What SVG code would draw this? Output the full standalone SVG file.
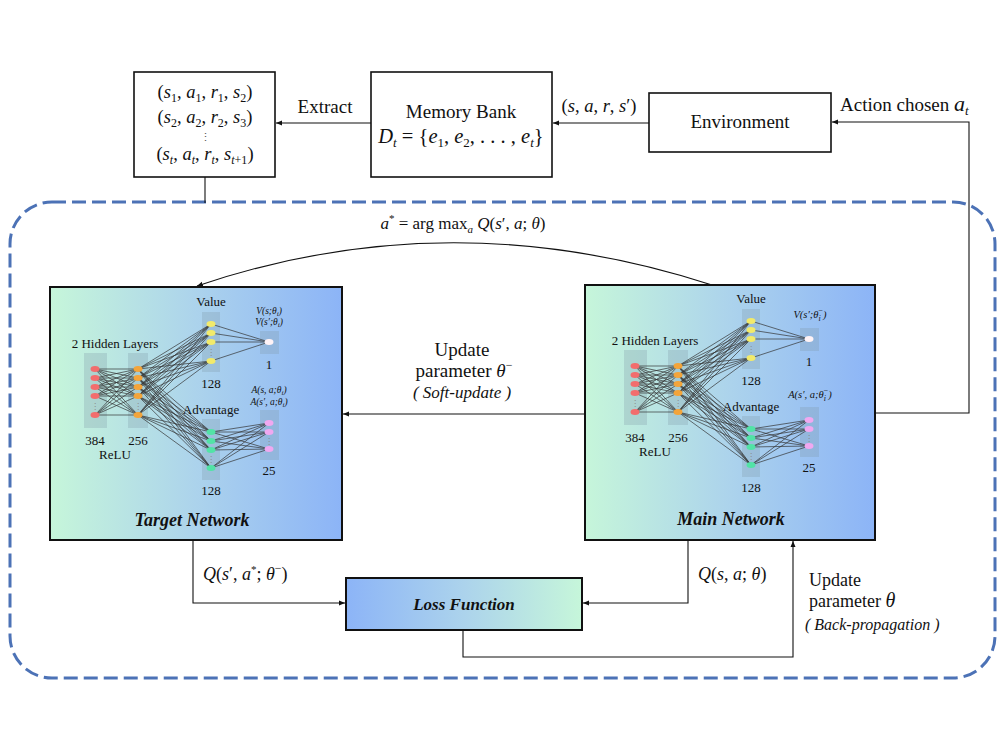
<svg xmlns="http://www.w3.org/2000/svg" xmlns:xlink="http://www.w3.org/1999/xlink" width="1000" height="750" viewBox="0 0 1000 750">
<style>
.t{font-family:"Liberation Serif","Times New Roman",serif;fill:#111}
.i{font-style:italic}
.box{fill:#fff;stroke:#111;stroke-width:1.6}
.conn{fill:none;stroke:#111;stroke-width:1.1}
.w{fill:none;stroke:#333;stroke-width:0.7}
.shade{fill:#7d98a6;fill-opacity:0.28}
.dots{font-family:"DejaVu Sans",sans-serif;font-size:8px;fill:#888}
</style>
<defs>
<marker id="ah" markerUnits="userSpaceOnUse" markerWidth="7" markerHeight="6" refX="6" refY="3" orient="auto">
<path d="M0 0.5L6 3L0 5.5z" fill="#111"/>
</marker>
<linearGradient id="gNet" x1="0" y1="0" x2="1" y2="0">
<stop offset="0" stop-color="#c6f6da"/>
<stop offset="0.5" stop-color="#acd3ec"/>
<stop offset="1" stop-color="#8cb4f7"/>
</linearGradient>
<linearGradient id="gLoss" x1="0" y1="0" x2="1" y2="0">
<stop offset="0" stop-color="#8cb4f7"/>
<stop offset="0.5" stop-color="#acd3ec"/>
<stop offset="1" stop-color="#c6f6da"/>
</linearGradient>
<g id="dqn">
<rect class="shade" x="84" y="353" width="23" height="75"/>
<rect class="shade" x="128" y="353" width="20" height="75"/>
<rect class="shade" x="202" y="312" width="18" height="60"/>
<rect class="shade" x="260" y="331" width="19" height="23"/>
<rect class="shade" x="202" y="419" width="18" height="61"/>
<rect class="shade" x="260" y="410" width="19" height="50"/>
<path class="w" d="M95 369L138 369M95 369L138 378M95 369L138 387M95 369L138 396M95 369L138 415M95 378L138 369M95 378L138 378M95 378L138 387M95 378L138 396M95 378L138 415M95 387L138 369M95 387L138 378M95 387L138 387M95 387L138 396M95 387L138 415M95 396L138 369M95 396L138 378M95 396L138 387M95 396L138 396M95 396L138 415M95 415L138 369M95 415L138 378M95 415L138 387M95 415L138 396M95 415L138 415"/>
<path class="w" d="M138 369L211 324M138 369L211 333M138 369L211 342M138 369L211 361M138 378L211 324M138 378L211 333M138 378L211 342M138 378L211 361M138 387L211 324M138 387L211 333M138 387L211 342M138 387L211 361M138 396L211 324M138 396L211 333M138 396L211 342M138 396L211 361M138 415L211 324M138 415L211 333M138 415L211 342M138 415L211 361"/>
<path class="w" d="M138 369L211 432M138 369L211 441M138 369L211 450M138 369L211 468M138 378L211 432M138 378L211 441M138 378L211 450M138 378L211 468M138 387L211 432M138 387L211 441M138 387L211 450M138 387L211 468M138 396L211 432M138 396L211 441M138 396L211 450M138 396L211 468M138 415L211 432M138 415L211 441M138 415L211 450M138 415L211 468"/>
<path class="w" d="M211 324L269 342M211 333L269 342M211 342L269 342M211 361L269 342"/>
<path class="w" d="M211 432L269 423M211 432L269 432M211 432L269 449M211 441L269 423M211 441L269 432M211 441L269 449M211 450L269 423M211 450L269 432M211 450L269 449M211 468L269 423M211 468L269 432M211 468L269 449"/>
<g fill="#f26d6d"><ellipse cx="95" cy="369" rx="4.5" ry="3"/><ellipse cx="95" cy="378" rx="4.5" ry="3"/><ellipse cx="95" cy="387" rx="4.5" ry="3"/><ellipse cx="95" cy="396" rx="4.5" ry="3"/><ellipse cx="95" cy="415" rx="4.5" ry="3"/></g>
<g fill="#f3a43a"><ellipse cx="138" cy="369" rx="4.5" ry="3"/><ellipse cx="138" cy="378" rx="4.5" ry="3"/><ellipse cx="138" cy="387" rx="4.5" ry="3"/><ellipse cx="138" cy="396" rx="4.5" ry="3"/><ellipse cx="138" cy="415" rx="4.5" ry="3"/></g>
<g fill="#f2ea6a"><ellipse cx="211" cy="324" rx="4.5" ry="3"/><ellipse cx="211" cy="333" rx="4.5" ry="3"/><ellipse cx="211" cy="342" rx="4.5" ry="3"/><ellipse cx="211" cy="361" rx="4.5" ry="3"/></g>
<ellipse cx="269" cy="342" rx="4.5" ry="3" fill="#fff3f6"/>
<g fill="#52e3a6"><ellipse cx="211" cy="432" rx="4.5" ry="3"/><ellipse cx="211" cy="441" rx="4.5" ry="3"/><ellipse cx="211" cy="450" rx="4.5" ry="3"/><ellipse cx="211" cy="468" rx="4.5" ry="3"/></g>
<g fill="#f0a8f0"><ellipse cx="269" cy="423" rx="4.5" ry="3"/><ellipse cx="269" cy="432" rx="4.5" ry="3"/><ellipse cx="269" cy="449" rx="4.5" ry="3"/></g>
<g class="dots" text-anchor="middle"><text x="95" y="409">⋮</text><text x="138" y="409">⋮</text><text x="211" y="355">⋮</text><text x="211" y="462">⋮</text><text x="269" y="444">⋮</text></g>
<g class="t" font-size="13" text-anchor="middle">
<text x="115" y="348">2 Hidden Layers</text>
<text x="95" y="445">384</text>
<text x="138" y="445">256</text>
<text x="115" y="459">ReLU</text>
<text x="211" y="306">Value</text>
<text x="211" y="388">128</text>
<text x="269" y="369">1</text>
<text x="211" y="414">Advantage</text>
<text x="211" y="495">128</text>
<text x="269" y="475">25</text>
</g>
</g>
</defs>
<rect width="1000" height="750" fill="#fff"/>
<rect id="dashed-frame" x="10" y="202" width="985" height="476" rx="42" fill="none" stroke="#4c72b6" stroke-width="3" stroke-dasharray="14 6"/>
<g id="connectors">
<path class="conn" d="M649 123L553 123" marker-end="url(#ah)"/>
<path class="conn" d="M371 123L276 123" marker-end="url(#ah)"/>
<path class="conn" d="M205 177L205 203"/>
<path class="conn" d="M876 413L969 413L969 122L832 122" marker-end="url(#ah)"/>
<path class="conn" d="M585 414L343 414" marker-end="url(#ah)"/>
<path class="conn" d="M712 285Q450 200 197 286" marker-end="url(#ah)"/>
<path class="conn" d="M193 541L193 603L345 603" marker-end="url(#ah)"/>
<path class="conn" d="M688 541L688 603L583 603" marker-end="url(#ah)"/>
<path class="conn" d="M463 630L463 657L793 657L793 541" marker-end="url(#ah)"/>
</g>
<g id="tuples">
<rect class="box" x="134" y="72" width="141" height="105"/>
<g class="t" font-size="18.5" text-anchor="middle">
<text x="205" y="98">(<tspan class="i">s</tspan><tspan font-size="12" dy="4">1</tspan><tspan dy="-4">, </tspan><tspan class="i">a</tspan><tspan font-size="12" dy="4">1</tspan><tspan dy="-4">, </tspan><tspan class="i">r</tspan><tspan font-size="12" dy="4">1</tspan><tspan dy="-4">, </tspan><tspan class="i">s</tspan><tspan font-size="12" dy="4">2</tspan><tspan dy="-4">)</tspan></text>
<text x="205" y="123">(<tspan class="i">s</tspan><tspan font-size="12" dy="4">2</tspan><tspan dy="-4">, </tspan><tspan class="i">a</tspan><tspan font-size="12" dy="4">2</tspan><tspan dy="-4">, </tspan><tspan class="i">r</tspan><tspan font-size="12" dy="4">2</tspan><tspan dy="-4">, </tspan><tspan class="i">s</tspan><tspan font-size="12" dy="4">3</tspan><tspan dy="-4">)</tspan></text>
<text x="205" y="141" font-size="11" fill="#555">⋮</text>
<text x="205" y="160">(<tspan class="i">s</tspan><tspan class="i" font-size="12" dy="4">t</tspan><tspan dy="-4">, </tspan><tspan class="i">a</tspan><tspan class="i" font-size="12" dy="4">t</tspan><tspan dy="-4">, </tspan><tspan class="i">r</tspan><tspan class="i" font-size="12" dy="4">t</tspan><tspan dy="-4">, </tspan><tspan class="i">s</tspan><tspan font-size="12" dy="4"><tspan class="i">t</tspan>+1</tspan><tspan dy="-4">)</tspan></text>
</g>
</g>
<g id="memory-bank">
<rect class="box" x="371" y="72" width="181" height="105"/>
<text class="t" x="461" y="118" font-size="19" text-anchor="middle">Memory Bank</text>
<text class="t" x="461" y="143" font-size="20.5" text-anchor="middle"><tspan class="i">D</tspan><tspan class="i" font-size="13" dy="4">t</tspan><tspan dy="-4"> = {</tspan><tspan class="i">e</tspan><tspan font-size="13" dy="4">1</tspan><tspan dy="-4">, </tspan><tspan class="i">e</tspan><tspan font-size="13" dy="4">2</tspan><tspan dy="-4">, . . . , </tspan><tspan class="i">e</tspan><tspan class="i" font-size="13" dy="4">t</tspan><tspan dy="-4">}</tspan></text>
</g>
<g id="environment">
<rect class="box" x="649" y="93" width="182" height="59"/>
<text class="t" x="740" y="128" font-size="19" text-anchor="middle">Environment</text>
</g>
<g id="labels-top" class="t">
<text x="325" y="113" font-size="19" text-anchor="middle">Extract</text>
<text x="599" y="112" font-size="18.5" text-anchor="middle">(<tspan class="i">s</tspan>, <tspan class="i">a</tspan>, <tspan class="i">r</tspan>, <tspan class="i">s</tspan>′)</text>
<text x="840" y="111" font-size="19">Action chosen <tspan class="i" font-size="22">a</tspan><tspan class="i" font-size="13" dy="4">t</tspan></text>
<text x="463" y="229" font-size="17" text-anchor="middle"><tspan class="i">a</tspan><tspan font-size="11" dy="-7">*</tspan><tspan dy="7"> = arg max</tspan><tspan class="i" font-size="11" dy="4">a</tspan><tspan dy="-4"> </tspan><tspan class="i">Q</tspan>(<tspan class="i">s</tspan>′, <tspan class="i">a</tspan>; <tspan class="i">θ</tspan>)</text>
<text x="462" y="356" font-size="19" text-anchor="middle">Update</text>
<text x="464" y="377" font-size="19" text-anchor="middle">parameter <tspan class="i">θ</tspan><tspan font-size="12" dy="-8">−</tspan></text>
<text x="462" y="398" font-size="17" text-anchor="middle" class="i">( Soft-update )</text>
<text x="203" y="580" font-size="18"><tspan class="i">Q</tspan>(<tspan class="i">s</tspan>′, <tspan class="i">a</tspan><tspan font-size="11" dy="-7">*</tspan><tspan dy="7">; </tspan><tspan class="i">θ</tspan><tspan font-size="12" dy="-8">−</tspan><tspan dy="8">)</tspan></text>
<text x="698" y="580" font-size="18"><tspan class="i">Q</tspan>(<tspan class="i">s</tspan>, <tspan class="i">a</tspan>; <tspan class="i">θ</tspan>)</text>
<text x="809" y="586" font-size="18">Update</text>
<text x="809" y="607" font-size="18">parameter  <tspan class="i" font-size="20">θ</tspan></text>
<text x="805" y="630" font-size="16" class="i">( Back-propagation )</text>
</g>
<g id="target-network">
<rect x="50" y="287" width="292" height="253" fill="url(#gNet)" stroke="#111" stroke-width="2"/>
<use href="#dqn"/>
<g class="t i" font-size="9.5" text-anchor="middle">
<text x="269" y="314">V(s;θ<tspan font-size="7" dy="2">i</tspan><tspan dy="-2">)</tspan></text>
<text x="269" y="325">V(s′;θ<tspan font-size="7" dy="2">i</tspan><tspan dy="-2">)</tspan></text>
<text x="269" y="393">A(s, a;θ<tspan font-size="7" dy="2">i</tspan><tspan dy="-2">)</tspan></text>
<text x="269" y="405">A(s′, a;θ<tspan font-size="7" dy="2">i</tspan><tspan dy="-2">)</tspan></text>
</g>
<text class="t i" x="192" y="526" font-size="18" font-weight="bold" text-anchor="middle">Target Network</text>
</g>
<g id="main-network">
<rect x="585" y="285" width="290" height="255" fill="url(#gNet)" stroke="#111" stroke-width="2"/>
<use href="#dqn" transform="translate(540,-3)"/>
<g class="t i" font-size="10.5" text-anchor="middle">
<text x="810" y="318">V(s′;θ<tspan font-size="8" dy="3">i</tspan><tspan font-size="8" dx="-3" dy="-8">−</tspan><tspan dy="5">)</tspan></text>
<text x="810" y="398">A(s′, a;θ<tspan font-size="8" dy="3">i</tspan><tspan font-size="8" dx="-3" dy="-8">−</tspan><tspan dy="5">)</tspan></text>
</g>
<text class="t i" x="731" y="525" font-size="18" font-weight="bold" text-anchor="middle">Main Network</text>
</g>
<g id="loss-function">
<rect x="346" y="578" width="236" height="52" fill="url(#gLoss)" stroke="#111" stroke-width="2"/>
<text class="t i" x="464" y="610" font-size="17" font-weight="bold" text-anchor="middle">Loss Function</text>
</g>
</svg>
